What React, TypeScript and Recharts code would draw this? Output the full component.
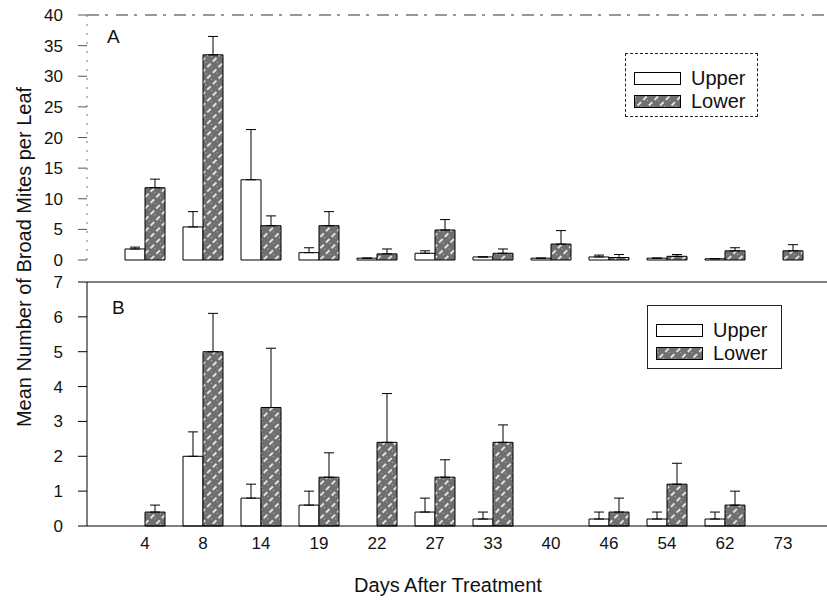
import { Bar, BarChart, ErrorBar, Legend, ReferenceLine, XAxis, YAxis } from 'recharts';

const days = ['4', '8', '14', '19', '22', '27', '33', '40', '46', '54', '62', '73'];
const seriesNames = ['Upper', 'Lower'];

// panel A: mean and SE
const upperA = [1.8, 5.4, 13.1, 1.2, 0.3, 1.1, 0.5, 0.3, 0.5, 0.3, 0.2, 0];
const upperASe = [0.3, 2.5, 8.2, 0.8, 0, 0.4, 0, 0, 0.3, 0, 0, 0];
const lowerA = [11.8, 33.5, 5.6, 5.6, 1.0, 4.9, 1.1, 2.6, 0.4, 0.6, 1.5, 1.5];
const lowerASe = [1.4, 3.0, 1.6, 2.3, 0.8, 1.7, 0.7, 2.2, 0.5, 0.3, 0.5, 1.0];

// panel B
const upperB = [0, 2.0, 0.8, 0.6, 0, 0.4, 0.2, 0, 0.2, 0.2, 0.2, 0];
const upperBSe = [0, 0.7, 0.4, 0.4, 0, 0.4, 0.2, 0, 0.2, 0.2, 0.2, 0];
const lowerB = [0.4, 5.0, 3.4, 1.4, 2.4, 1.4, 2.4, 0, 0.4, 1.2, 0.6, 0];
const lowerBSe = [0.2, 1.1, 1.7, 0.7, 1.4, 0.5, 0.5, 0, 0.4, 0.6, 0.4, 0];

const ticksA = [0, 5, 10, 15, 20, 25, 30, 35, 40];
const ticksB = [0, 1, 2, 3, 4, 5, 6, 7];

const FONT = '"Liberation Sans", Arial, Helvetica, sans-serif';

function buildRows(upper: number[], upperSe: number[], lower: number[], lowerSe: number[]) {
  return days.map((day, i) => ({
    day,
    upper: upper[i],
    lower: lower[i],
    upperErr: [0, upperSe[i]],
    lowerErr: [0, lowerSe[i]],
  }));
}

const dataA = buildRows(upperA, upperASe, lowerA, lowerASe);
const dataB = buildRows(upperB, upperBSe, lowerB, lowerBSe);

// grey stipple with white diagonal streaks
function Hatch({ id }: { id: string }) {
  return (
    <pattern id={id} width="8" height="8" patternUnits="userSpaceOnUse" patternTransform="rotate(45)">
      <rect width="8" height="8" fill="#6f6f6f" />
      <line x1="2" y1="0" x2="2" y2="5" stroke="#ffffff" strokeWidth="1.6" />
      <rect x="5" y="2" width="1" height="1" fill="#bdbdbd" />
    </pattern>
  );
}

function LegendBox({ dashed }: { dashed: boolean }) {
  return (
    <div
      style={{
        width: '100%',
        height: '100%',
        boxSizing: 'border-box',
        border: dashed ? '1px dashed #222' : '1px solid #222',
        padding: '13px 0 0 8px',
        fontFamily: FONT,
        fontSize: 20,
        color: '#111',
      }}
    >
      {seriesNames.map((name, i) => (
        <div key={name} style={{ display: 'flex', alignItems: 'center', height: 23 }}>
          <svg width={47} height={13} style={{ marginRight: 10 }}>
            <defs>
              <Hatch id={`legend-hatch-${dashed ? 'a' : 'b'}-${i}`} />
            </defs>
            <rect
              x={0.5}
              y={0.5}
              width={46}
              height={12}
              fill={i === 0 ? '#fff' : `url(#legend-hatch-${dashed ? 'a' : 'b'}-${i})`}
              stroke="#000"
            />
          </svg>
          <span>{name}</span>
        </div>
      ))}
    </div>
  );
}

export default function App() {
  const tickStyle = { fill: '#111', fontSize: 17, fontFamily: FONT };

  return (
    <div style={{ position: 'absolute', left: 0, top: 0, width: 827, height: 601, background: '#fff' }}>
      <div style={{ position: 'absolute', left: 0, top: 0 }}>
        <BarChart
          width={827}
          height={270}
          data={dataA}
          margin={{ top: 15, right: 0, left: 0, bottom: 10 }}
          barSize={20}
          barGap={0}
        >
          <defs>
            <Hatch id="hatch-a" />
          </defs>
          <XAxis
            dataKey="day"
            height={0}
            tick={false}
            tickLine={false}
            padding={{ left: 29, right: 15 }}
            axisLine={{ stroke: '#444', strokeDasharray: '3 3' }}
          />
          <YAxis
            width={87}
            domain={[0, 40]}
            ticks={ticksA}
            interval={0}
            tick={tickStyle}
            tickSize={9}
            tickMargin={15}
            tickLine={{ stroke: '#555' }}
            axisLine={{ stroke: '#777', strokeDasharray: '2 7' }}
          />
          <ReferenceLine y={40} stroke="#333" strokeDasharray="12 6 3 8" />
          <Bar dataKey="upper" name="Upper" fill="#fff" stroke="#000" strokeWidth={1} isAnimationActive={false}>
            <ErrorBar dataKey="upperErr" direction="y" width={5} stroke="#000" strokeWidth={1} />
          </Bar>
          <Bar dataKey="lower" name="Lower" fill="url(#hatch-a)" stroke="#000" strokeWidth={1} isAnimationActive={false}>
            <ErrorBar dataKey="lowerErr" direction="y" width={5} stroke="#000" strokeWidth={1} />
          </Bar>
          <Legend
            layout="vertical"
            align="center"
            verticalAlign="middle"
            content={() => <LegendBox dashed />}
            wrapperStyle={{ position: 'absolute', left: 625, top: 53, width: 133, height: 64 }}
          />
        </BarChart>
      </div>

      <div style={{ position: 'absolute', left: 0, top: 270 }}>
        <BarChart
          width={827}
          height={331}
          data={dataB}
          margin={{ top: 12, right: 0, left: 0, bottom: 0 }}
          barSize={20}
          barGap={0}
        >
          <defs>
            <Hatch id="hatch-b" />
          </defs>
          <XAxis
            dataKey="day"
            height={75}
            interval={0}
            tick={tickStyle}
            tickLine={false}
            tickMargin={5}
            padding={{ left: 29, right: 15 }}
            axisLine={{ stroke: '#000' }}
            label={{
              value: 'Days After Treatment',
              position: 'insideBottom',
              offset: 9,
              dx: -9,
              fill: '#111',
              fontSize: 20,
              fontFamily: FONT,
            }}
          />
          <YAxis
            width={87}
            domain={[0, 7]}
            ticks={ticksB}
            interval={0}
            tick={tickStyle}
            tickSize={9}
            tickMargin={15}
            tickLine={{ stroke: '#000' }}
            axisLine={{ stroke: '#000' }}
          />
          <ReferenceLine y={7} stroke="#000" />
          <Bar dataKey="upper" name="Upper" fill="#fff" stroke="#000" strokeWidth={1} isAnimationActive={false}>
            <ErrorBar dataKey="upperErr" direction="y" width={5} stroke="#000" strokeWidth={1} />
          </Bar>
          <Bar dataKey="lower" name="Lower" fill="url(#hatch-b)" stroke="#000" strokeWidth={1} isAnimationActive={false}>
            <ErrorBar dataKey="lowerErr" direction="y" width={5} stroke="#000" strokeWidth={1} />
          </Bar>
          <Legend
            layout="vertical"
            align="center"
            verticalAlign="middle"
            content={() => <LegendBox dashed={false} />}
            wrapperStyle={{ position: 'absolute', left: 647, top: 35, width: 135, height: 64 }}
          />
        </BarChart>
      </div>

      <span style={{ position: 'absolute', left: 107, top: 26, fontFamily: FONT, fontSize: 19, color: '#111' }}>A</span>
      <span style={{ position: 'absolute', left: 112, top: 297, fontFamily: FONT, fontSize: 19, color: '#111' }}>B</span>

      <svg width={50} height={601} style={{ position: 'absolute', left: 0, top: 0, pointerEvents: 'none' }}>
        <text
          x={24}
          y={257}
          transform="rotate(-90 24 257)"
          textAnchor="middle"
          dominantBaseline="central"
          fontFamily={FONT}
          fontSize={20}
          fill="#111"
        >
          Mean Number of Broad Mites per Leaf
        </text>
      </svg>
    </div>
  );
}
